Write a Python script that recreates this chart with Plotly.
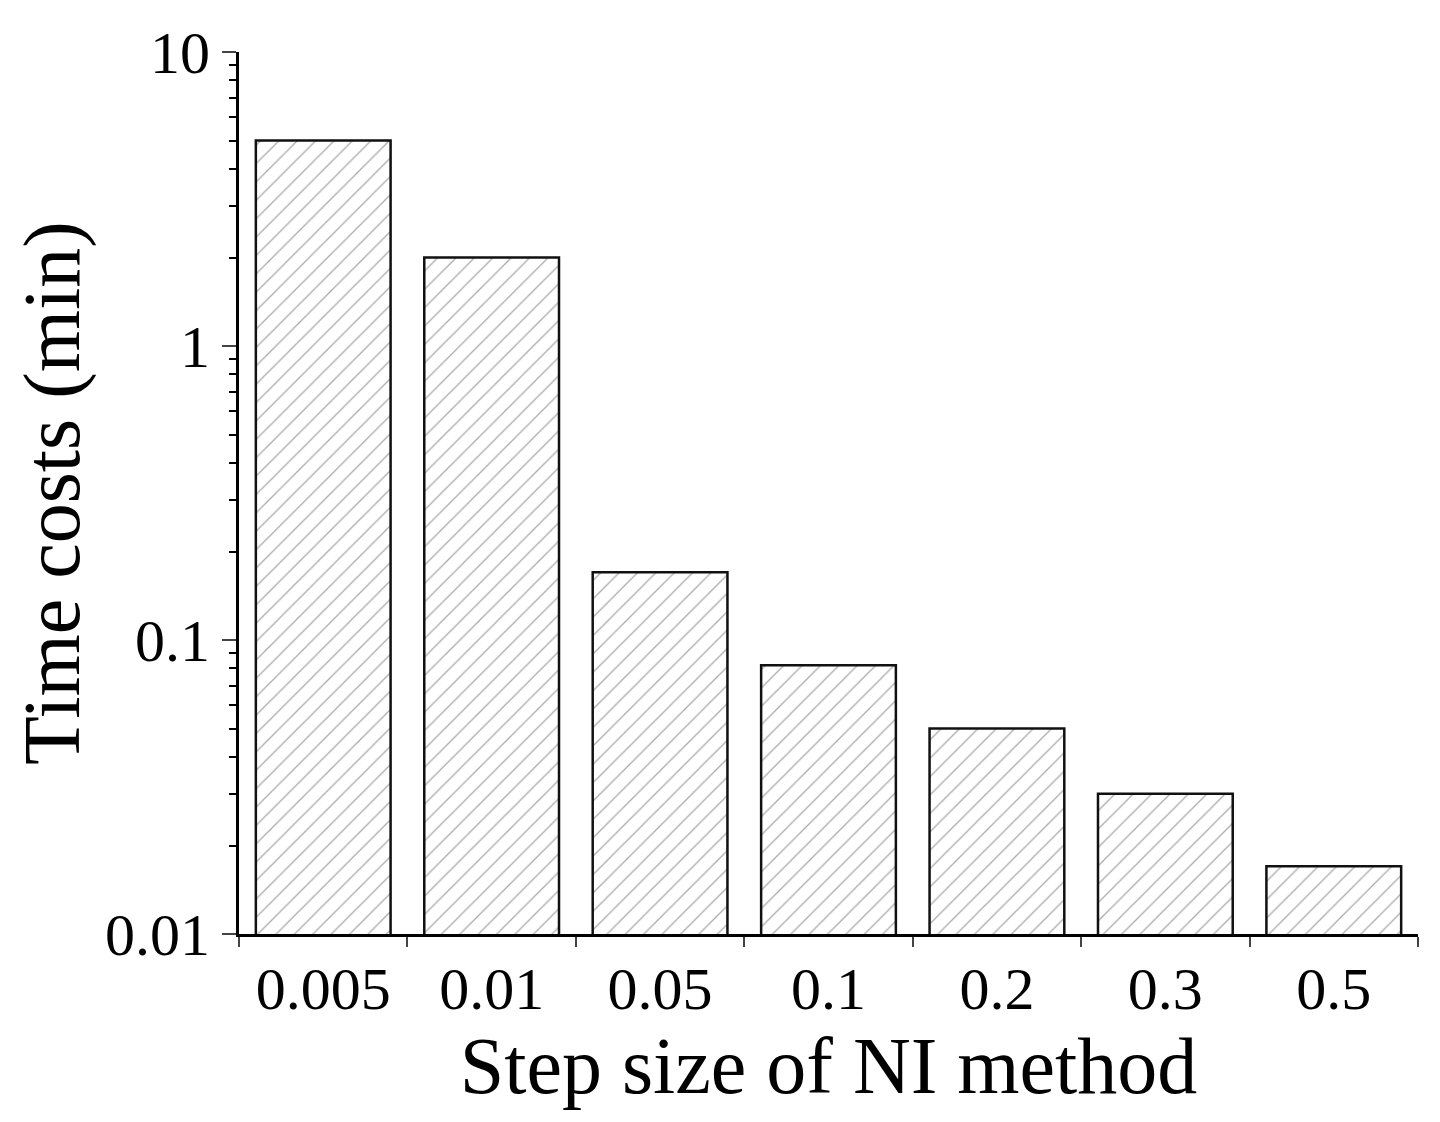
import plotly.graph_objects as go

step_sizes = ["0.005", "0.01", "0.05", "0.1", "0.2", "0.3", "0.5"]
time_costs = [5.0, 2.0, 0.17, 0.082, 0.05, 0.030, 0.017]

fig = go.Figure()
fig.add_trace(
    go.Bar(
        x=step_sizes,
        y=time_costs,
        width=0.8,
        marker=dict(
            color="white",
            line=dict(color="#111111", width=2.5),
            pattern=dict(shape="/", fgcolor="#555555", bgcolor="white", size=13, solidity=0.1),
        ),
    )
)

font = dict(family="Liberation Serif", color="black")
fig.update_layout(
    width=1440,
    height=1122,
    plot_bgcolor="white",
    paper_bgcolor="white",
    showlegend=False,
    margin=dict(l=231, r=30, t=37, b=196),
    font=font,
)
fig.update_xaxes(
    title=dict(text="Step size of NI method", font=dict(size=80), standoff=0),
    tickfont=dict(size=60),
    showline=True, linecolor="black", linewidth=3,
    ticks="outside", ticklen=10, tickwidth=2, tickson="boundaries",
    range=[-0.5, 6.5], showgrid=False,
)
fig.update_yaxes(
    type="log",
    range=[-2, 1],
    title=dict(text="Time costs (min)", font=dict(size=80), standoff=8),
    tickvals=[0.01, 0.1, 1, 10],
    ticktext=["0.01", "0.1", "1", "10"],
    tickfont=dict(size=60),
    showline=True, linecolor="black", linewidth=3,
    ticks="outside", ticklen=14, tickwidth=2,
    minor=dict(ticks="outside", ticklen=7, tickwidth=1.5, tickcolor="black",
               tickvals=[m * 10**e for e in (-2, -1, 0) for m in range(2, 10)]),
    showgrid=False, zeroline=False,
)

fig.write_html("out.html")
